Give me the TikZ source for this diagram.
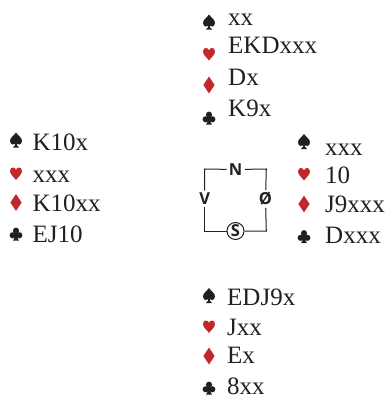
\documentclass[tikz,border=0pt]{standalone}
\usepackage{fontspec}
\setmainfont{Liberation Serif}
\newfontfamily\compfont{Open Sans}
\definecolor{ink}{HTML}{231F20}
\definecolor{suitred}{HTML}{C1272D}
\tikzset{
  hand/.style={anchor=base west, inner sep=0pt, text=ink, font=\fontsize{25bp}{30bp}\selectfont},
  comp/.style={inner sep=2.2bp, text=ink, font=\compfont\bfseries\fontsize{16.5bp}{19bp}\selectfont},
  compline/.style={draw=ink, line width=1bp},
  spadesym/.pic={\fill[ink] (0,-7.5) .. controls (-2,-4.5) and (-6,-2.5) .. (-6,1) .. controls (-6,3.5) and (-4.5,4.5) .. (-3,4.5) .. controls (-1.5,4.5) and (-0.6,3.5) .. (-0.4,2.5) .. controls (-0.6,5) and (-1.5,6.5) .. (-3,7.5) -- (3,7.5) .. controls (1.5,6.5) and (0.6,5) .. (0.4,2.5) .. controls (0.6,3.5) and (1.5,4.5) .. (3,4.5) .. controls (4.5,4.5) and (6,3.5) .. (6,1) .. controls (6,-2.5) and (2,-4.5) .. (0,-7.5) -- cycle;},
  heartsym/.pic={\fill[suitred] (0,6.5) .. controls (-2,3.5) and (-6,1) .. (-6,-2.5) .. controls (-6,-5) and (-4.5,-6) .. (-3,-6) .. controls (-1.5,-6) and (0,-5) .. (0,-3.5) .. controls (0,-5) and (1.5,-6) .. (3,-6) .. controls (4.5,-6) and (6,-5) .. (6,-2.5) .. controls (6,1) and (2,3.5) .. (0,6.5) -- cycle;},
  diamondsym/.pic={\fill[suitred] (0,-8.5) -- (5.6,0) -- (0,8.5) -- (-5.6,0) -- cycle;},
  clubsym/.pic={\fill[ink] (0,-3.3) circle (3.1);
    \fill[ink] (-3.3,1.3) circle (3.1);
    \fill[ink] (3.3,1.3) circle (3.1);
    \fill[ink] (-1.8,-1.2) rectangle (1.8,2);
    \fill[ink] (-0.7,0) -- (0.7,0) .. controls (0.9,3) and (1.6,5) .. (2.9,6.5) -- (-2.9,6.5) .. controls (-1.6,5) and (-0.9,3) .. (-0.7,0) -- cycle;}
}
\begin{document}
\begin{tikzpicture}[x=1bp,y=-1bp]
\useasboundingbox (0,0) rectangle (387,398);
% North
\pic at (209,22) {spadesym};
\pic at (209,54) {heartsym};
\pic at (209,85) {diamondsym};
\pic at (209,118) {clubsym};
\node[hand] (n1) at (228,25.5) {xx};
\node[hand] (n2) at (228,53.5) {EKDxxx};
\node[hand] (n3) at (228,85) {Dx};
\node[hand] (n4) at (228,116.5) {K9x};
% West
\pic at (16,140) {spadesym};
\pic at (16,173.5) {heartsym};
\pic at (16,202.5) {diamondsym};
\pic at (16,234) {clubsym};
\node[hand] (w1) at (32.5,150) {K10x};
\node[hand] (w2) at (32.5,182) {xxx};
\node[hand] (w3) at (32.5,211) {K10xx};
\node[hand] (w4) at (32.5,242) {EJ10};
% East
\pic at (304,141.5) {spadesym};
\pic at (304,174) {heartsym};
\pic at (304,204) {diamondsym};
\pic at (304,236.5) {clubsym};
\node[hand] (e1) at (325,155) {xxx};
\node[hand] (e2) at (325,183) {10};
\node[hand] (e3) at (325,212) {J9xxx};
\node[hand] (e4) at (325,243) {Dxxx};
% South
\pic at (209,295.5) {spadesym};
\pic at (209,326.5) {heartsym};
\pic at (209,356) {diamondsym};
\pic at (209,388) {clubsym};
\node[hand] (s1) at (227,305) {EDJ9x};
\node[hand] (s2) at (227,335) {Jxx};
\node[hand] (s3) at (227,363) {Ex};
\node[hand] (s4) at (227,394) {8xx};
% Compass
\coordinate (tl) at (204.7,169);
\coordinate (tr) at (266.3,169);
\coordinate (bl) at (204.7,231);
\coordinate (br) at (266.3,231);
\node[comp] (cn) at (235.7,169.5) {N};
\node[comp] (cv) at (204.7,199) {V};
\node[comp] (co) at (265.5,199) {Ø};
\node[comp, draw=ink, line width=1bp, circle, inner sep=0pt, minimum size=17bp] (cs) at (235.5,231) {S};
\draw[compline] (cn) -- (tl) -- (cv);
\draw[compline] (cn) -- (tr) -- (co);
\draw[compline] (cv) -- (bl) -- (cs);
\draw[compline] (co) -- (br) -- (cs);
\end{tikzpicture}
\end{document}
